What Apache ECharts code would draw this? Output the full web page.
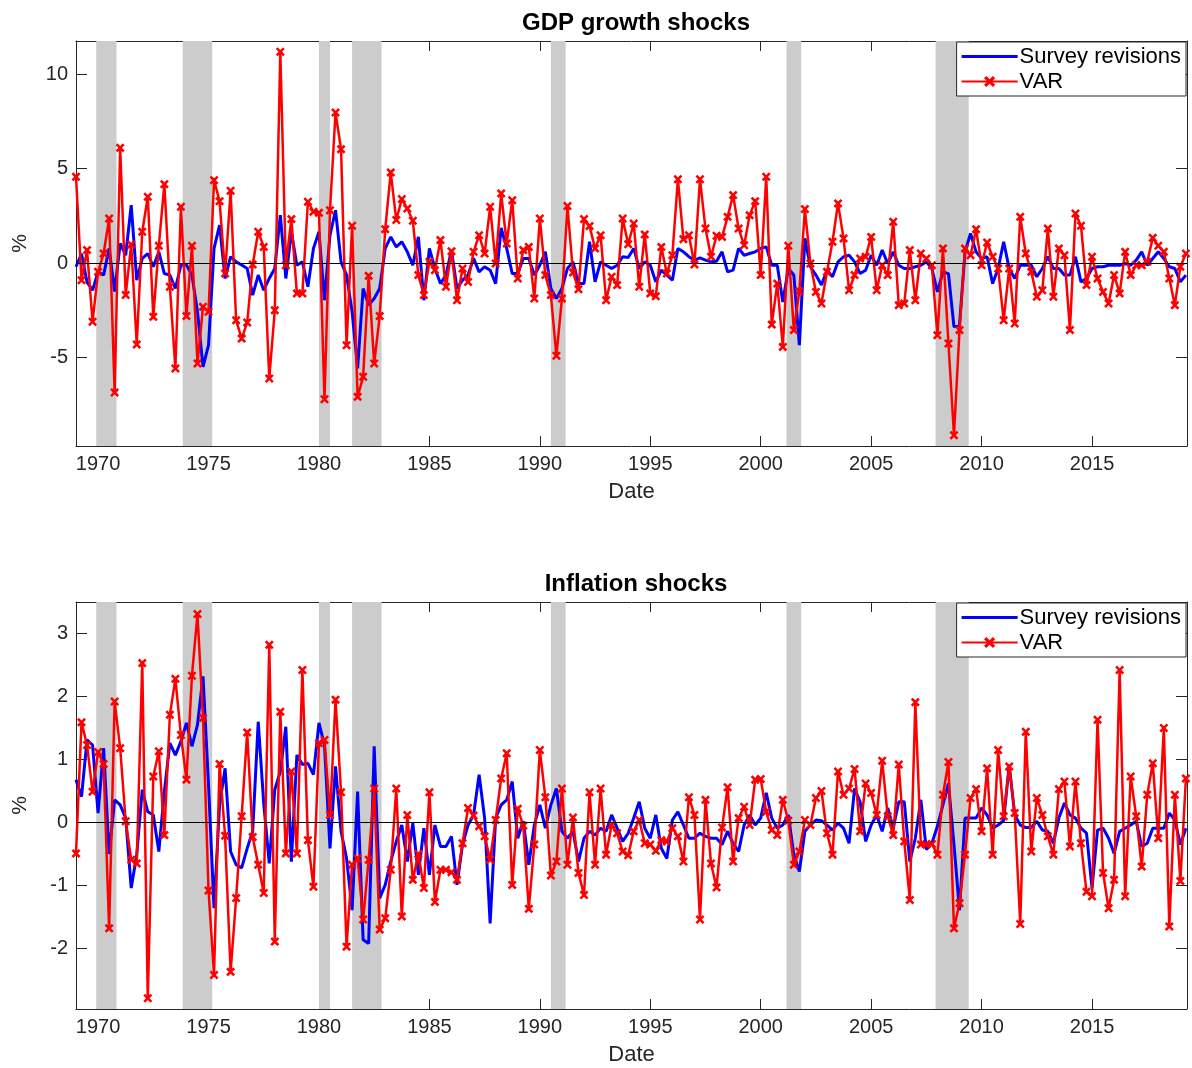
<!DOCTYPE html>
<html><head><meta charset="utf-8">
<script src="https://cdn.jsdelivr.net/npm/echarts@6/dist/echarts.min.js"></script>
<style>html,body{margin:0;padding:0;background:#fff}#c{width:1192px;height:1068px}</style>
</head><body><div id="c"></div>
<script>
// quarterly observations, first quarter = 1969Q1
const startYear = 1969;
const gdpSurvey = [
-0.19,0.5,-1.0,-1.43,-0.46,-0.63,0.78,-1.5,1.04,0.42,3.07,-0.9,0.25,0.51,-0.19,0.6,-0.55,-0.63,-1.34,-0.1,-0.1,-0.63,-2.57,-5.48,-4.34,0.78,2.01,-0.81,0.34,0.07,-0.1,-0.28,-1.69,-0.63,
-1.43,-0.81,-0.28,2.54,-0.81,1.66,-0.11,0.07,-1.25,0.78,1.66,-1.96,1.48,2.80,0.07,-0.63,-2.57,-5.57,-1.34,-2.22,-1.87,-1.34,0.78,1.39,0.86,1.13,0.60,-0.11,1.39,-1.96,0.78,-0.28,-1.08,
-0.63,0.69,-1.34,-0.9,-0.63,0.25,-0.46,-0.19,-0.37,-1.08,1.87,0.78,-0.55,-0.55,0.25,0.25,-0.63,-0.11,0.6,-1.34,-1.87,-1.34,-0.28,0.07,-1.08,-1.08,1.13,-0.99,0.07,-0.11,-0.28,-0.11,0.34,0.3,
0.78,-0.28,0.07,-0.11,-0.99,-0.37,-0.63,-0.9,0.78,0.6,0.34,0.16,0.28,0.16,0.07,0.1,0.6,-0.46,-0.37,0.78,0.42,0.51,0.6,0.78,0.86,-0.11,-0.11,-2.05,-0.28,-0.63,-4.34,1.31,-0.19,
-0.63,-1.16,-0.37,-0.72,0.07,0.34,0.42,0.07,-0.55,-0.37,0.42,-0.11,0.69,-0.02,0.6,-0.11,-0.28,-0.28,-0.19,-0.11,0.07,-0.28,-1.52,-0.46,-0.55,-3.37,-3.28,0.6,1.57,0.6,0.25,0.34,-1.08,
-0.28,1.13,-0.28,-0.81,-0.11,-0.11,-0.11,-0.72,-0.28,0.34,-0.28,-0.28,-0.63,-0.63,0.34,-0.99,-0.81,-0.28,-0.19,-0.19,-0.11,-0.11,-0.11,-0.02,-0.11,0.16,0.60,-0.11,0.25,0.60,0.25,-0.19,-0.28,-0.99,-0.63
];
const gdpVar = [
4.57,-0.90,0.69,-3.10,-0.46,0.51,2.36,-6.84,6.10,-1.68,0.99,-4.30,1.66,3.51,-2.84,0.92,4.18,-1.25,-5.57,2.98,-2.80,0.92,-5.31,-2.31,-2.57,4.39,3.28,-0.55,3.83,-3.02,-3.99,-3.14,-0.07,1.66,
0.86,-6.10,-2.49,11.18,-0.11,2.33,-1.60,-1.60,3.25,2.72,2.66,-7.20,2.80,7.97,6.03,-4.34,1.98,-7.07,-6.01,-0.67,-5.31,-2.80,1.80,4.80,2.28,3.39,2.89,2.24,-0.63,-1.69,0.07,-0.37,1.22,
-1.25,0.63,-1.96,-0.28,-0.99,0.60,1.48,0.51,2.98,-0.02,3.69,1.04,3.33,-0.81,0.69,0.86,-1.87,2.36,-0.63,-1.69,-4.90,-1.87,3.02,-0.49,-1.38,2.33,1.96,0.78,1.48,-1.96,-0.72,-1.16,2.36,1.0,
2.10,-1.25,1.52,-1.60,-1.75,0.86,-0.55,0.42,4.44,1.27,1.48,-0.07,4.44,1.83,0.34,1.45,1.39,2.45,3.60,1.83,0.95,2.54,3.28,-0.63,4.57,-3.25,-1.08,-4.43,0.92,-3.54,-1.48,2.86,-0.02,
-1.52,-2.13,-0.46,1.13,3.16,1.31,-1.43,-0.63,0.25,0.34,1.39,-1.43,-0.11,-0.63,2.19,-2.22,-2.13,0.69,-1.96,0.51,0.25,-0.11,-3.81,0.78,-4.25,-9.10,-3.54,0.78,0.42,1.80,-0.11,1.09,0.34,
-0.28,-3.02,-0.28,-3.19,2.45,0.51,-0.46,-1.78,-1.43,1.83,-1.78,0.78,0.42,-3.54,2.63,1.98,-1.16,0.34,-0.81,-1.52,-2.13,-0.63,-1.60,0.60,-0.63,-0.11,-0.11,0.07,1.34,0.92,0.60,-0.81,-2.22,-0.19,0.51
];
const infSurvey = [
0.68,0.41,1.31,1.23,0.15,1.18,-0.5,0.36,0.28,0.07,-1.04,-0.51,0.52,0.17,0.12,-0.46,0.49,1.26,1.07,1.29,1.58,1.21,1.55,2.32,0.60,-1.36,0.28,0.86,-0.46,-0.67,-0.72,-0.41,-0.14,1.60,
0.3,-0.65,0.52,0.81,1.52,-0.62,1.07,0.92,0.94,0.76,1.58,1.23,-0.41,0.89,-0.14,-0.57,-1.39,0.49,-1.86,-1.92,1.21,-1.20,-0.99,-0.62,-0.30,-0.04,-0.62,-0.01,-0.83,-0.09,-0.83,-0.04,-0.38,
-0.38,-0.22,-0.99,-0.35,-0.04,0.12,0.76,0.07,-1.60,0.07,0.28,0.36,0.65,-0.25,0.02,-0.67,-0.04,0.28,-0.09,0.28,0.54,-0.14,-0.25,-0.14,-0.62,-0.25,-0.14,-0.20,-0.09,-0.14,0.12,-0.09,-0.30,-0.17,
0.07,0.33,-0.09,-0.25,0.12,-0.41,-0.57,0.04,0.17,-0.04,-0.25,-0.25,-0.17,-0.22,-0.25,-0.25,-0.35,-0.14,-0.33,-0.46,-0.04,0.12,-0.04,0.07,0.47,0.07,-0.09,-0.04,0.12,-0.51,-0.78,-0.14,-0.04,
0.04,0.03,-0.04,-0.12,-0.01,-0.09,-0.33,0.54,0.33,-0.30,-0.04,0.12,-0.14,0.23,-0.09,0.33,0.33,-0.62,-0.25,0.36,-0.43,-0.33,-0.06,0.28,0.62,-0.35,-1.39,0.07,0.07,0.07,0.23,0.12,-0.09,
-0.04,0.03,0.92,0.12,-0.04,-0.08,-0.08,0.02,-0.12,-0.14,-0.33,0.07,0.31,0.12,0.07,-0.09,-0.17,-1.04,-0.12,-0.09,-0.25,-0.49,-0.14,-0.09,-0.04,0.02,-0.38,-0.33,-0.09,-0.09,-0.09,0.15,0.04,-0.35,-0.09
];
const infVar = [
-0.49,1.59,1.23,0.49,1.12,0.93,-1.68,1.92,1.18,0.02,-0.59,-0.65,2.53,-2.79,0.73,1.13,-0.20,1.71,2.28,1.39,0.68,2.33,3.31,1.66,-1.08,-2.42,0.93,-0.21,-2.37,-1.20,0.10,1.43,-0.23,-0.67,
-1.12,2.82,-1.89,1.76,-0.49,0.81,-0.49,2.42,-0.28,-1.02,1.26,1.31,0.12,1.95,0.48,-1.97,-0.67,-0.57,-1.54,-0.59,0.54,-1.70,-1.52,-0.75,0.54,-1.49,0.12,-0.91,-0.50,-1.04,0.48,-1.26,-0.75,
-0.75,-0.79,-0.91,-0.33,0.23,0.11,-0.06,-0.22,-0.59,0.04,0.70,1.10,-0.99,0.22,-0.05,-1.37,-0.35,1.15,0.40,-0.84,-0.62,0.54,-0.67,0.08,-0.80,-1.15,0.48,-0.67,0.54,-0.51,-0.04,-0.17,-0.46,-0.52,
-0.14,0.04,-0.33,-0.35,-0.45,-0.28,-0.30,-0.09,-0.22,-0.62,0.40,0.12,-1.54,0.36,-0.65,-1.03,-0.08,0.56,-0.62,0.07,0.25,-0.04,0.68,0.69,0.17,-0.12,-0.20,0.36,0.03,-0.67,-0.46,0.04,-0.04,
0.39,0.50,-0.17,-0.51,0.81,0.44,0.54,0.85,-0.14,0.62,0.47,0.12,0.98,0.10,-0.20,0.92,-0.30,-1.23,1.91,-0.35,-0.35,-0.34,-0.51,0.44,0.96,-1.68,-1.28,-0.51,0.39,0.53,-0.14,0.86,-0.51,
1.15,0.10,0.89,0.15,-1.61,1.44,-0.46,0.39,0.12,-0.22,-0.51,0.53,0.65,-0.38,0.65,-0.33,-1.10,-1.17,1.63,-0.80,-1.36,-0.91,2.42,-1.17,0.73,0.10,-0.70,0.44,0.94,-0.25,1.50,-1.65,0.44,-0.93,0.70
];
// NBER recessions (decimal years)
const recStart = [1969.917, 1973.833, 1980.0, 1981.5, 1990.5, 2001.167, 2007.917];
const recEnd   = [1970.833, 1975.167, 1980.5, 1982.833, 1991.167, 2001.833, 2009.417];
const xTicks = [1970, 1975, 1980, 1985, 1990, 1995, 2000, 2005, 2010, 2015];
const gdpTicks = [-5, 0, 5, 10];
const infTicks = [-2, -1, 0, 1, 2, 3];
const titles = ['GDP growth shocks', 'Inflation shocks'];
const names = ['Survey revisions', 'VAR'];

const FONT = '"Liberation Sans", Arial, Helvetica, sans-serif';
const AX = '#262626';
const pairs = arr => arr.map((v, i) => [startYear + i * 0.25, v]);
const xSym = 'path://M2,0L5,3L8,0L10,2L7,5L10,8L8,10L5,7L2,10L0,8L3,5L0,2Z';
// plain line icon for the legend (tiny corner specks keep the box 56x14)
const lineIcon = 'path://M0,0L0.01,0L0.01,0.01Z M0,5.5L56,5.5L56,8.5L0,8.5Z M55.99,13.99L56,13.99L56,14Z';

const grids = [
  {left: 76, right: 5, top: 41, height: 405},
  {left: 76, right: 5, top: 602, height: 407}
];
const yr = [[-9.67, 11.75], [-2.96, 3.5]];
const yt = [gdpTicks, infTicks];

const xAxes = [], yAxes = [];
[0, 1].forEach(g => {
  xAxes.push({
    type: 'value', gridIndex: g, min: 1969, max: 2019.3, position: 'bottom',
    name: 'Date', nameLocation: 'middle', nameGap: 35,
    nameTextStyle: {fontFamily: FONT, fontSize: 22, color: AX},
    axisLine: {show: true, onZero: false, lineStyle: {color: AX, width: 1}},
    axisTick: {show: true, inside: true, length: 10, customValues: xTicks, lineStyle: {color: AX}},
    axisLabel: {show: true, customValues: xTicks, margin: 8, fontFamily: FONT, fontSize: 20, color: AX, formatter: v => String(v)},
    splitLine: {show: false}
  });
  xAxes.push({
    type: 'value', gridIndex: g, min: 1969, max: 2019.3, position: 'top',
    axisLine: {show: true, onZero: false, lineStyle: {color: AX, width: 1}},
    axisTick: {show: true, inside: true, length: 10, customValues: xTicks, lineStyle: {color: AX}},
    axisLabel: {show: false}, splitLine: {show: false}
  });
  yAxes.push({
    type: 'value', gridIndex: g, min: yr[g][0], max: yr[g][1], position: 'left',
    name: '%', nameLocation: 'middle', nameGap: 45, nameRotate: 90,
    nameTextStyle: {fontFamily: FONT, fontSize: 21, color: AX},
    axisLine: {show: true, onZero: false, lineStyle: {color: AX, width: 1}},
    axisTick: {show: true, inside: true, length: 11, customValues: yt[g], lineStyle: {color: AX}},
    axisLabel: {show: true, customValues: yt[g], margin: 8, fontFamily: FONT, fontSize: 20, color: AX},
    splitLine: {show: false}
  });
  yAxes.push({
    type: 'value', gridIndex: g, min: yr[g][0], max: yr[g][1], position: 'right',
    axisLine: {show: true, onZero: false, lineStyle: {color: AX, width: 1}},
    axisTick: {show: true, inside: true, length: 11, customValues: yt[g], lineStyle: {color: AX}},
    axisLabel: {show: false}, splitLine: {show: false}
  });
});

const recAreas = recStart.map((s, k) => [{xAxis: s}, {xAxis: recEnd[k]}]);
const series = [];
const panels = [[gdpSurvey, gdpVar], [infSurvey, infVar]];
[0, 1].forEach(g => {
  series.push({
    type: 'line', xAxisIndex: 2 * g, yAxisIndex: 2 * g, data: [], silent: true, z: 1,
    markArea: {silent: true, itemStyle: {color: '#cccccc'}, data: recAreas},
    markLine: {silent: true, symbol: 'none', label: {show: false},
      lineStyle: {color: '#000', width: 1, type: 'solid'}, data: [{yAxis: 0}]}
  });
  series.push({
    name: names[0], type: 'line', xAxisIndex: 2 * g, yAxisIndex: 2 * g, z: 3,
    data: pairs(panels[g][0]), symbol: 'none', showSymbol: false,
    lineStyle: {color: '#0000ff', width: 3}, itemStyle: {color: '#0000ff'}, animation: false
  });
  series.push({
    name: names[1], type: 'line', xAxisIndex: 2 * g, yAxisIndex: 2 * g, z: 4,
    data: pairs(panels[g][1]), symbol: xSym, symbolSize: 9, showSymbol: true,
    lineStyle: {color: '#ff0000', width: 2.5}, itemStyle: {color: '#ff0000'}, animation: false
  });
});

const legends = [0, 1].map(g => ({
  data: [{name: names[0], icon: lineIcon}, {name: names[1]}],
  orient: 'vertical', right: 6, top: grids[g].top + 1,
  backgroundColor: '#fff', borderColor: AX, borderWidth: 1, borderRadius: 0,
  padding: [3, 5, 3, 4], itemGap: 2, itemWidth: 56, itemHeight: 14,
  textStyle: {fontFamily: FONT, fontSize: 22, lineHeight: 23, color: '#000', padding: [0, 0, 0, -3]},
  selectedMode: false
}));

const chart = echarts.init(document.getElementById('c'), null, {renderer: 'canvas'});
chart.setOption({
  backgroundColor: '#fff',
  animation: false,
  title: titles.map((t, g) => ({
    text: t, left: 631, top: grids[g].top - 35, textAlign: 'center',
    textStyle: {fontFamily: FONT, fontSize: 24, fontWeight: 'bold', color: '#000'}
  })),
  legend: legends,
  grid: grids,
  xAxis: xAxes,
  yAxis: yAxes,
  series: series
});
</script></body></html>
